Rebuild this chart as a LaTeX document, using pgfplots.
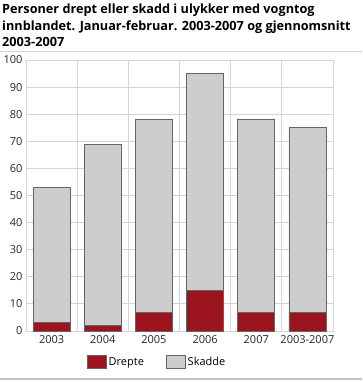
\documentclass[border=0pt]{standalone}
\usepackage{fontspec}
\setmainfont{Open Sans}
\usepackage{pgfplots}
\pgfplotsset{compat=1.18}
\definecolor{drepte}{RGB}{155,20,30}
\definecolor{skadde}{RGB}{205,205,205}
\definecolor{bord}{RGB}{100,100,100}
\definecolor{gridc}{RGB}{212,212,212}
\begin{document}
\begin{tikzpicture}
\useasboundingbox (-26pt,-51pt) rectangle (336pt,331pt);
\begin{axis}[
  anchor=south west, at={(0pt,0pt)},
  scale only axis, width=307pt, height=271pt,
  ybar stacked, bar width=37pt,
  xmin=-0.5, xmax=5.5, ymin=0, ymax=100,
  xtick={0,...,5}, xticklabels={2003,2004,2005,2006,2007,2003-2007},
  minor xtick={0.5,1.5,...,4.5},
  ytick={0,10,...,100},
  xmajorgrids=false, xminorgrids=true, ymajorgrids=true,
  grid style={gridc,line width=0.8pt},
  minor grid style={gridc,line width=0.8pt},
  axis line style={gridc,line width=0.8pt},
  major tick length=0pt, minor tick length=0pt,
  tick style={draw=none},
  ticklabel style={font=\fontsize{11}{13}\selectfont, text=black!85},
  /pgf/number format/assume math mode=true,
  xticklabel style={yshift=-1pt},
  legend style={at={(0.427,-0.114)}, anchor=center, draw=none, fill=none,
    legend columns=-1, font=\fontsize{11}{13}\selectfont,
    /tikz/every even column/.append style={column sep=20pt}},
  legend image code/.code={\draw[#1,draw=bord] (0pt,-6.5pt) rectangle (19pt,6.5pt);},
  every axis plot/.append style={draw=bord, line width=0.8pt},
]
\addplot[fill=drepte] coordinates {(0,3) (1,2) (2,7) (3,15) (4,7) (5,7)};
\addplot[fill=skadde] coordinates {(0,50) (1,67) (2,71) (3,80) (4,71) (5,68)};
\legend{Drepte,Skadde}
\end{axis}
\node[anchor=north west,inner sep=0pt,align=left,font=\fontsize{12.7}{16.5}\selectfont\bfseries] at (-24pt,327pt)
{Personer drept eller skadd i ulykker med vogntog\\innblandet. Januar-februar. 2003-2007 og gjennomsnitt\\2003-2007};
\draw[gridc,line width=1.2pt] (-26pt,279.5pt) -- (336pt,279.5pt);
\draw[gridc!80!gray,line width=1.2pt] (-26pt,-48pt) -- (336pt,-48pt);
\end{tikzpicture}
\end{document}
